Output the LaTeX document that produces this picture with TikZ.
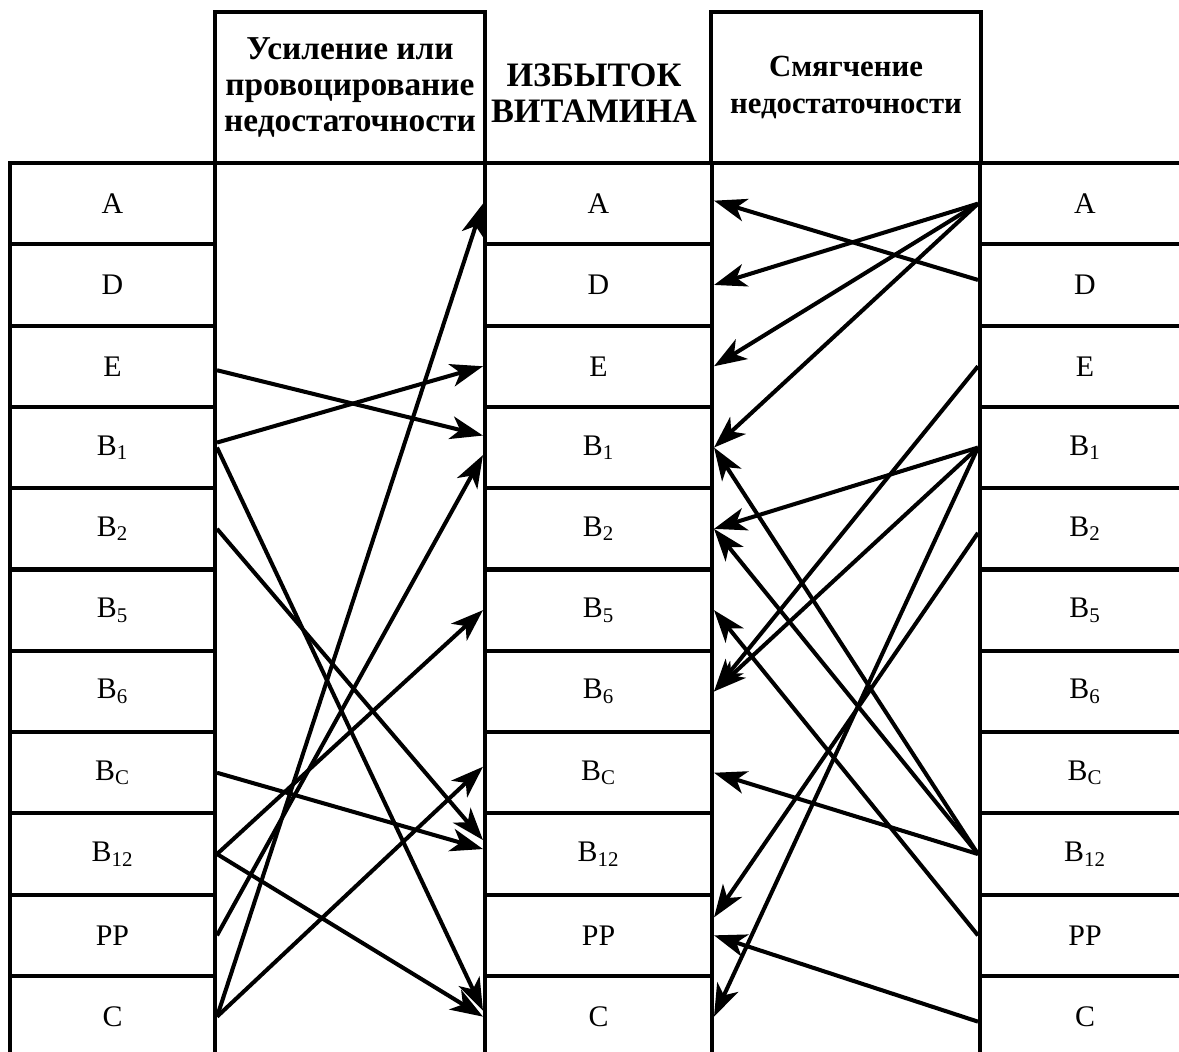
\documentclass[tikz,border=0pt]{standalone}
\usepackage{fontspec}
\setmainfont{Liberation Serif}
\usetikzlibrary{arrows.meta}

\begin{document}
\begin{tikzpicture}[x=0.2mm, y=-0.2mm, line width=2.3pt,
		cell/.style = {draw, minimum height=16.26mm, inner sep=0pt, font=\fontsize{17}{20}\selectfont},
		lcell/.style = {cell, minimum width=41mm},
		mcell/.style = {cell, minimum width=45.4mm},
		rcell/.style = {cell, minimum width=42mm},
		head/.style = {draw, minimum width=54mm, minimum height=30.2mm, align=center},
		arr/.style = {-{Stealth[length=6.5mm, width=4.6mm, inset=1.8mm]}}]

		\useasboundingbox (0,0) rectangle (1179,1052);
		\clip (0,0) rectangle (1179,1052);

		% headers
		\node[head, font=\bfseries\fontsize{19}{20.4}\selectfont] (hl) at (350,87.5) {Усиление или\\провоцирование\\недостаточности};
		\node[font=\bfseries\fontsize{19.5}{20.5}\selectfont, align=center] (hm) at (594,93) {ИЗБЫТОК\\ВИТАМИНА};
		\node[head, font=\bfseries\fontsize{17.5}{21.5}\selectfont] (hr) at (846,87.5) {Смягчение\\недостаточности};

		% left column
		\node[lcell] (lA) at (112.5,203.65) {A};
		\node[lcell] (lD) at (112.5,284.95) {D};
		\node[lcell] (lE) at (112.5,366.25) {E};
		\node[lcell] (lB1) at (112.5,447.55) {B\textsubscript{1}};
		\node[lcell] (lB2) at (112.5,528.85) {B\textsubscript{2}};
		\node[lcell] (lB5) at (112.5,610.15) {B\textsubscript{5}};
		\node[lcell] (lB6) at (112.5,691.45) {B\textsubscript{6}};
		\node[lcell] (lBc) at (112.5,772.75) {B\textsubscript{C}};
		\node[lcell] (lB12) at (112.5,854.05) {B\textsubscript{12}};
		\node[lcell] (lPP) at (112.5,935.35) {PP};
		\node[lcell] (lC) at (112.5,1016.65) {C};

		% middle column
		\node[mcell] (mA) at (598.5,203.65) {A};
		\node[mcell] (mD) at (598.5,284.95) {D};
		\node[mcell] (mE) at (598.5,366.25) {E};
		\node[mcell] (mB1) at (598.5,447.55) {B\textsubscript{1}};
		\node[mcell] (mB2) at (598.5,528.85) {B\textsubscript{2}};
		\node[mcell] (mB5) at (598.5,610.15) {B\textsubscript{5}};
		\node[mcell] (mB6) at (598.5,691.45) {B\textsubscript{6}};
		\node[mcell] (mBc) at (598.5,772.75) {B\textsubscript{C}};
		\node[mcell] (mB12) at (598.5,854.05) {B\textsubscript{12}};
		\node[mcell] (mPP) at (598.5,935.35) {PP};
		\node[mcell] (mC) at (598.5,1016.65) {C};

		% right column
		\node[rcell] (rA) at (1085,203.65) {A};
		\node[rcell] (rD) at (1085,284.95) {D};
		\node[rcell] (rE) at (1085,366.25) {E};
		\node[rcell] (rB1) at (1085,447.55) {B\textsubscript{1}};
		\node[rcell] (rB2) at (1085,528.85) {B\textsubscript{2}};
		\node[rcell] (rB5) at (1085,610.15) {B\textsubscript{5}};
		\node[rcell] (rB6) at (1085,691.45) {B\textsubscript{6}};
		\node[rcell] (rBc) at (1085,772.75) {B\textsubscript{C}};
		\node[rcell] (rB12) at (1085,854.05) {B\textsubscript{12}};
		\node[rcell] (rPP) at (1085,935.35) {PP};
		\node[rcell] (rC) at (1085,1016.65) {C};

		% left side arrows
		\draw[arr] ([yshift=-0.8mm]lE.east) -- ([yshift=2.4mm]mB1.west);
		\draw[arr] ([yshift=1mm]lB1.east) -- (mE.west);
		\draw[arr] (lB1.east) -- ([yshift=1.2mm]mC.west);
		\draw[arr] (lB2.east) -- ([yshift=2.8mm]mB12.west);
		\draw[arr] (lBc.east) -- ([yshift=1mm]mB12.west);
		\draw[arr] (lB12.east) -- (mB5.west);
		\draw[arr] (lB12.east) -- (mC.west);
		\draw[arr] (lPP.east) -- ([yshift=-1.5mm]mB1.west);
		\draw[arr] (lC.east) -- (mA.west);
		\draw[arr] (lC.east) -- ([yshift=1.2mm]mBc.west);

		% right side arrows
		\draw[arr] (rA.west) -- (mD.east);
		\draw[arr] (rA.west) -- (mE.east);
		\draw[arr] (rA.west) -- (mB1.east);
		\draw[arr] ([yshift=1mm]rD.west) -- ([yshift=0.6mm]mA.east);
		\draw[arr] (rE.west) -- (mB6.east);
		\draw[arr] (rB1.west) -- (mB2.east);
		\draw[arr] (rB1.west) -- (mB6.east);
		\draw[arr] (rB1.west) -- (mC.east);
		\draw[arr] ([yshift=-0.8mm]rB2.west) -- ([yshift=3.6mm]mPP.east);
		\draw[arr] (rB12.west) -- (mB1.east);
		\draw[arr] (rB12.west) -- (mB2.east);
		\draw[arr] (rB12.west) -- (mBc.east);
		\draw[arr] (rPP.west) -- (mB5.east);
		\draw[arr] ([yshift=-1mm]rC.west) -- (mPP.east);
	\end{tikzpicture}
\end{document}
